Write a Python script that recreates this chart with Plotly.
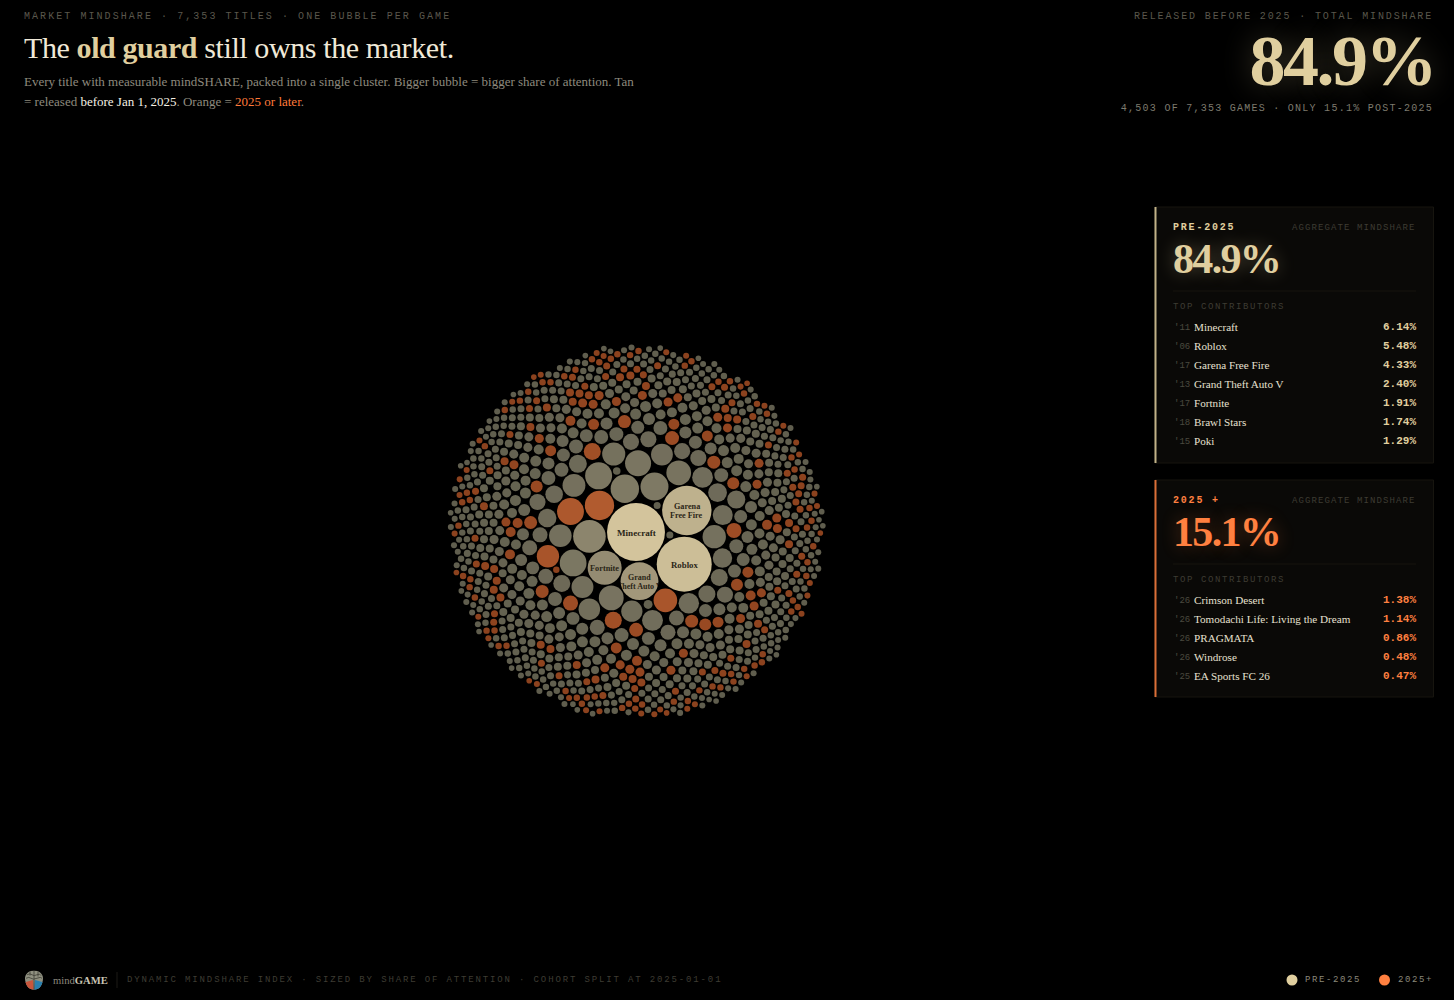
import base64, json, math
import numpy as np
import plotly.graph_objects as go

TOP_SHARE = [6.14, 5.48, 4.33, 2.40, 1.91, 1.74, 1.38, 1.29, 1.25, 1.15, 1.14, 1.13, 1.06, 0.96, 0.95,
             0.86, 0.84, 0.82, 0.80, 0.78, 0.76, 0.73, 0.72, 0.70, 0.68, 0.66, 0.65, 0.63, 0.60,
             0.56, 0.52, 0.50, 0.48, 0.47, 0.45]
TAIL_SHARE = [0.42, 0.37, 0.32, 0.27, 0.23, 0.195, 0.16, 0.13, 0.105, 0.08, 0.06, 0.05, 0.043, 0.037]
TAIL_COUNT = [5, 6, 8, 12, 16, 22, 35, 60, 90, 150, 200, 170, 115, 30]
GAP_SHARE = [0.10, 0.09, 0.08, 0.07, 0.06, 0.05]
GAP_COUNT = [8, 10, 12, 14, 14, 12]
# Ranks (largest first) of the titles released in 2025 or later.
ORANGE_RANKS = [6, 10, 15, 20, 38, 39, 51, 52, 58, 62, 67, 68, 71, 77, 78, 84, 85, 87, 99, 104, 107, 110, 111, 125,
                131, 137, 139, 156, 158, 175, 178, 187, 194, 201, 209, 210,
                214, 216, 218, 219, 223, 229, 237, 238, 242, 244, 252, 253, 255, 257, 258, 263, 264, 271, 275, 276,
                278, 285, 299, 301, 311, 316, 319, 333, 334, 335, 344, 346, 352, 361, 368, 371,
                372, 375, 379, 380, 382, 384, 387, 389, 398, 411, 414, 424, 427, 433, 435, 436, 441, 442, 444, 451,
                454, 458, 461, 468, 469, 480, 487, 497, 499, 502, 505, 506, 513, 515, 521, 522,
                525, 536, 537, 539, 540, 541, 545, 550, 556, 562, 564, 569, 570, 571, 580, 586, 590, 595, 604, 605,
                608, 619, 627, 629, 633, 634, 647, 649, 652, 653, 656, 659, 660, 661, 664, 665,
                671, 675, 676, 683, 684, 687, 688, 692, 697, 700, 701, 702, 704, 707, 710, 712, 722, 723, 725, 726,
                727, 730, 732, 735, 736, 738, 743, 746, 747, 748, 749, 753, 754, 755, 760, 762,
                764, 771, 772, 778, 780, 784, 787, 788, 794, 797, 798, 799, 800, 802, 803, 804, 805, 806, 808, 809,
                811, 812, 815, 817, 819, 824, 825, 829, 832, 839, 845, 852, 863, 867, 868, 874,
                877, 878, 880, 882, 883, 884, 886, 895, 898, 900, 902, 903, 904, 909, 920, 923, 927, 934, 938, 946,
                948, 949, 958]
LABELS = {0: ["Minecraft"], 1: ["Roblox"], 2: ["Garena", "Free Fire"], 3: ["Grand", "Theft Auto V"], 4: ["Fortnite"]}

PRE_GAMES = ["Minecraft", "Roblox", "Garena Free Fire", "Grand Theft Auto V", "Fortnite", "Brawl Stars", "Poki"]
PRE_YEARS = ["'11", "'06", "'17", "'13", "'17", "'18", "'15"]
PRE_VALUES = ["6.14%", "5.48%", "4.33%", "2.40%", "1.91%", "1.74%", "1.29%"]
POST_GAMES = ["Crimson Desert", "Tomodachi Life: Living the Dream", "PRAGMATA", "Windrose", "EA Sports FC 26"]
POST_YEARS = ["'26", "'26", "'26", "'26", "'25"]
POST_VALUES = ["1.38%", "1.14%", "0.86%", "0.48%", "0.47%"]

TAN = "#e0cf9f"
ORANGE = "#ff8040"
SERIF = "Liberation Serif"
MONO = "Liberation Mono"
PAD = 0.75
K, EXPONENT = 12.66, 0.456


def radius(share):
    return K * np.asarray(share, dtype=float) ** EXPONENT


class C:
    __slots__ = ("x", "y", "r")
    def __init__(self, r):
        self.x, self.y, self.r = 0.0, 0.0, r


class N:
    __slots__ = ("c", "next", "prev")
    def __init__(self, c):
        self.c, self.next, self.prev = c, None, None


def place(b, a, c):
    dx, dy = b.x - a.x, b.y - a.y
    d2 = dx * dx + dy * dy
    if d2:
        a2, b2 = (a.r + c.r) ** 2, (b.r + c.r) ** 2
        if a2 > b2:
            x = (d2 + b2 - a2) / (2 * d2)
            y = math.sqrt(max(0, b2 / d2 - x * x))
            c.x, c.y = b.x - x * dx - y * dy, b.y - x * dy + y * dx
        else:
            x = (d2 + a2 - b2) / (2 * d2)
            y = math.sqrt(max(0, a2 / d2 - x * x))
            c.x, c.y = a.x + x * dx - y * dy, a.y + x * dy + y * dx
    else:
        c.x, c.y = a.x + c.r, a.y


def hits(a, b):
    dr = a.r + b.r - 1e-6
    dx, dy = b.x - a.x, b.y - a.y
    return dr > 0 and dr * dr > dx * dx + dy * dy


def pack(circles):
    a0, b0 = circles[0], circles[1]
    a0.x, b0.x = -b0.r, a0.r
    ox, oy = a0.x, a0.y

    def score(n):
        a, b = n.c, n.next.c
        dx, dy = (a.x + b.x) / 2 - ox, (a.y + b.y) / 2 - oy
        return dx * dx + dy * dy

    c0 = circles[2]
    place(b0, a0, c0)
    a, b, c = N(a0), N(b0), N(c0)
    a.next = c.prev = b
    b.next = a.prev = c
    c.next = b.prev = a
    i = 3
    while i < len(circles):
        cc = circles[i]
        place(a.c, b.c, cc)
        c = N(cc)
        j, k = b.next, a.prev
        sj, sk = b.c.r, a.c.r
        retry = False
        while True:
            if sj <= sk:
                if hits(j.c, c.c):
                    b = j
                    a.next = b
                    b.prev = a
                    retry = True
                    break
                sj += j.c.r
                j = j.next
            else:
                if hits(k.c, c.c):
                    a = k
                    a.next = b
                    b.prev = a
                    retry = True
                    break
                sk += k.c.r
                k = k.prev
            if j is k.next:
                break
        if retry:
            continue
        c.prev = a
        c.next = b
        a.next = b.prev = b = c
        aa = score(a)
        c = c.next
        while c is not b:
            ca = score(c)
            if ca < aa:
                a, aa = c, ca
            c = c.next
        b = a.next
        i += 1


main_share = np.concatenate([TOP_SHARE, np.repeat(TAIL_SHARE, TAIL_COUNT)])
main_r = radius(main_share)
circles = [C(r + PAD) for r in main_r]
pack(circles)
px = np.array([c.x for c in circles])
py = np.array([c.y for c in circles])

# Orient the packed cluster: Minecraft at the anchor, Roblox to its lower right.
px, py = px - px[0], -(py - py[0])
angle = math.atan2(32, 48) - math.atan2(py[1], px[1])
qx = px * math.cos(angle) - py * math.sin(angle)
qy = px * math.sin(angle) + py * math.cos(angle)
ANCHOR = (636.0, 532.0)

# Tiny titles settle into the holes left between larger neighbours.
gap_share = np.repeat(GAP_SHARE, GAP_COUNT)
gap_r = radius(gap_share)
X, Y, R = qx.copy(), qy.copy(), main_r + PAD
kept_gap = []
for idx, r0 in enumerate(gap_r):
    r = r0 + PAD
    inner = np.where(np.hypot(X, Y) < 150)[0]
    xi, yi, ri = X[inner], Y[inner], R[inner]
    dx = xi[:, None] - xi[None, :]
    dy = yi[:, None] - yi[None, :]
    d = np.hypot(dx, dy)
    ii, jj = np.where(np.triu((d < ri[:, None] + ri[None, :] + 2 * r) & (d > 0), 1))
    if len(ii) == 0:
        continue
    dd = d[ii, jj]
    ra, rb = ri[ii] + r, ri[jj] + r
    t = (dd * dd + ra * ra - rb * rb) / (2 * dd)
    h = np.sqrt(np.maximum(ra * ra - t * t, 0))
    ux, uy = (xi[jj] - xi[ii]) / dd, (yi[jj] - yi[ii]) / dd
    cx = np.concatenate([xi[ii] + t * ux - h * uy, xi[ii] + t * ux + h * uy])
    cy = np.concatenate([yi[ii] + t * uy + h * ux, yi[ii] + t * uy - h * ux])
    order = np.argsort(np.hypot(cx, cy))
    for o in order:
        if np.hypot(cx[o], cy[o]) > 140:
            break
        if np.all(np.hypot(X - cx[o], Y - cy[o]) >= R + r - 1e-6):
            X, Y, R = np.append(X, cx[o]), np.append(Y, cy[o]), np.append(R, r)
            kept_gap.append(r0)
            break

all_r = np.concatenate([main_r, kept_gap])
all_x = X + ANCHOR[0]
all_y = Y + ANCHOR[1]
is_orange = np.zeros(len(all_r), dtype=bool)
is_orange[[v for v in ORANGE_RANKS if v < len(all_r)]] = True

RAMP_R = [2.8, 4, 6, 10, 14, 16, 18, 25, 29]
RAMP_RGB = np.array([(96, 94, 78), (100, 98, 80), (104, 101, 84), (112, 108, 90), (126, 121, 100),
                     (138, 131, 108), (158, 148, 120), (192, 179, 142), (212, 197, 157)], dtype=float)
ORANGE_R = [3, 8, 15]
ORANGE_RGB = np.array([(140, 66, 30), (160, 78, 38), (178, 92, 48)], dtype=float)


def ramp(r, knots, rgb):
    return ["rgb(%d,%d,%d)" % tuple(np.interp(v, knots, rgb[:, i]) for i in range(3)) for v in r]


tan_colors = ramp(all_r, RAMP_R, RAMP_RGB)
orange_colors = ramp(all_r, ORANGE_R, ORANGE_RGB)
colors = [o if f else t for f, t, o in zip(is_orange, tan_colors, orange_colors)]

fig = go.Figure()
fig.add_trace(go.Scatter(
    x=all_x, y=all_y, mode="markers", hoverinfo="skip", cliponaxis=False,
    marker=dict(size=2 * all_r, sizemode="diameter", color=colors, opacity=1, line=dict(width=0)),
))

annotations = []
spacing = []


def text(x, y, s, size, color, family=MONO, anchor="left", ls=0.0, shadow=None, clip=None):
    font = dict(family=family, size=size, color=color)
    if shadow:
        font["shadow"] = shadow
    annotations.append(dict(x=x, y=y, xref="x", yref="y", text=s, showarrow=False, xanchor=anchor,
                            yanchor="middle", align=anchor, font=font, borderpad=0, borderwidth=0))
    spacing.append(dict(ls=ls, clip=clip))


text(24, 16, "MARKET MINDSHARE · 7,353 TITLES · ONE BUBBLE PER GAME", 10, "#5a574c", ls=2.06)
text(24, 47, f'The <b><span style="color:{TAN}">old guard</span></b> still owns the market.', 30, "#f0e9d8", SERIF, ls=-0.4)
text(24, 81, "Every title with measurable mindSHARE, packed into a single cluster. Bigger bubble = bigger share of attention. Tan", 13, "#8e8a7e", SERIF)
text(24, 101.5, '= released <span style="color:#f5f0e4">before Jan 1, 2025</span>. Orange = <span style="color:#ff7a3a">2025 or later</span>.', 13, "#8e8a7e", SERIF)
text(1433, 16, "RELEASED BEFORE 2025 · TOTAL MINDSHARE", 10, "#5a574c", anchor="right", ls=1.87)
text(1435, 61, "<b>84.9%</b>", 72, TAN, SERIF, anchor="right", ls=-2.5, shadow="0 0 30px rgba(224,207,159,0.28)")
text(1433, 108, "4,503 OF 7,353 GAMES · ONLY 15.1% POST-2025", 10, "#7d7a6e", anchor="right", ls=1.26)

shapes = []


def panel(top, bottom, color, head, number, games, years, values):
    shapes.append(dict(type="rect", xref="x", yref="y", x0=1155, x1=1433.5, y0=top, y1=bottom,
                       fillcolor="#0a0907", line=dict(color="#17150f", width=1), layer="below"))
    shapes.append(dict(type="rect", xref="x", yref="y", x0=1154.5, x1=1156.5, y0=top, y1=bottom,
                       fillcolor=color, line=dict(width=0), layer="below", opacity=0.85))
    text(1173, top + 20.5, f"<b>{head}</b>", 10, color, ls=1.8)
    text(1416, top + 20.5, "AGGREGATE MINDSHARE", 9, "#3e3c33", anchor="right", ls=1.1)
    text(1173, top + 52, f"<b>{number}</b>", 42, color, SERIF, ls=-1.68, shadow=f"0 0 18px {color}55")
    shapes.append(dict(type="line", xref="x", yref="y", x0=1173, x1=1416, y0=top + 84, y1=top + 84,
                       line=dict(color="#17150f", width=1), layer="below"))
    text(1173, top + 99.5, "TOP CONTRIBUTORS", 9, "#3e3c33", ls=1.6)
    for i, (g, y_, v) in enumerate(zip(games, years, values)):
        row = top + 120 + 19 * i
        text(1174, row + 0.5, y_, 9, "#4b493f")
        text(1193.5, row, g, 11.15, "#e6e0d0", SERIF)
        text(1416, row, f"<b>{v}</b>", 11, color, anchor="right")


panel(207, 463, TAN, "PRE-2025", "84.9%", PRE_GAMES, PRE_YEARS, PRE_VALUES)
panel(480, 697, ORANGE, "2025 +", "15.1%", POST_GAMES, POST_YEARS, POST_VALUES)

for rank, lines in LABELS.items():
    size = {0: 9.1, 1: 8.8, 2: 8.2, 3: 8.0, 4: 8.3}[rank]
    for n, line in enumerate(lines):
        off = (n - (len(lines) - 1) / 2) * (size + 0.9)
        text(float(all_x[rank]), float(all_y[rank] + off + 0.6), f"<b>{line}</b>", size, "#2b2617", SERIF, anchor="center",
             clip=[float(all_r[rank]), off + 0.6] if line == "Theft Auto V" else None)

text(53, 980, '<span style="color:#8e8a7e">mind</span><b>GAME</b>', 10.6, "#c9c4b4", SERIF)
shapes.append(dict(type="line", xref="x", yref="y", x0=117, x1=117, y0=972, y1=988, line=dict(color="#1c1b16", width=1)))
text(127, 979.5, "DYNAMIC MINDSHARE INDEX · SIZED BY SHARE OF ATTENTION · COHORT SPLIT AT 2025-01-01", 9, "#3e3c33", ls=1.86)
for cx_, col in [(1292, TAN), (1384.5, ORANGE)]:
    shapes.append(dict(type="circle", xref="x", yref="y", x0=cx_ - 5.5, x1=cx_ + 5.5, y0=974.5, y1=985.5,
                       fillcolor=col, line=dict(width=0)))
text(1305, 980, "PRE-2025", 9, "#8b887b", ls=1.6)
text(1398, 980, "2025+", 9, "#8b887b", ls=1.6)

logo_svg = """<svg xmlns="http://www.w3.org/2000/svg" viewBox="0 0 20 24"><defs><clipPath id="b"><path d="M10 1C5 1 1 5 1 10c0 6 3 13 8 13h2c5 0 8-7 8-13C19 5 15 1 10 1z"/></clipPath></defs>
<g clip-path="url(#b)"><rect width="20" height="24" fill="#8f9080"/><path d="M0 15L9 12 10 24H0z" fill="#c8563c"/><path d="M20 15L11 12 10 24H20z" fill="#2a7fae"/>
<g stroke="#3a3a30" stroke-width="0.8" fill="none"><path d="M3 6q3-2 5 0t5 0 4 1"/><path d="M2 10q3-2 5 0t6 0 5 0"/><path d="M10 1V23"/><path d="M6 2v5M14 2v6"/></g></g></svg>"""
logo_uri = "data:image/svg+xml;base64," + base64.b64encode(logo_svg.encode()).decode()

fig.update_layout(
    width=1454, height=1000, autosize=False, margin=dict(l=0, r=0, t=0, b=0),
    paper_bgcolor="#000000", plot_bgcolor="#000000", showlegend=False, hovermode=False,
    xaxis=dict(range=[0, 1454], visible=False, fixedrange=True),
    yaxis=dict(range=[1000, 0], visible=False, fixedrange=True),
    shapes=shapes, annotations=annotations,
    images=[dict(source=logo_uri, xref="x", yref="y", x=24, y=969.5, sizex=20, sizey=21, xanchor="left",
                 yanchor="top", sizing="stretch", layer="above")],
)

post = """
document.body.style.margin = '0';
document.body.style.background = '#000';
document.documentElement.style.background = '#000';
document.documentElement.style.overflow = 'hidden';
var spec = %s;
var gd = document.getElementById('{plot_id}');
gd.querySelectorAll('g.annotation').forEach(function (g) {
  var s = spec[+g.getAttribute('data-index')];
  var t = g.querySelector('text.annotation-text');
  if (!s || !t) return;
  if (s.ls) t.style.letterSpacing = s.ls + 'px';
  if (s.clip) t.style.clipPath = 'circle(' + s.clip[0] + 'px at 50%% calc(50%% - ' + s.clip[1] + 'px))';
});
""" % json.dumps(spacing)

fig.write_html("out.html", config=dict(displayModeBar=False, responsive=False), post_script=post)
